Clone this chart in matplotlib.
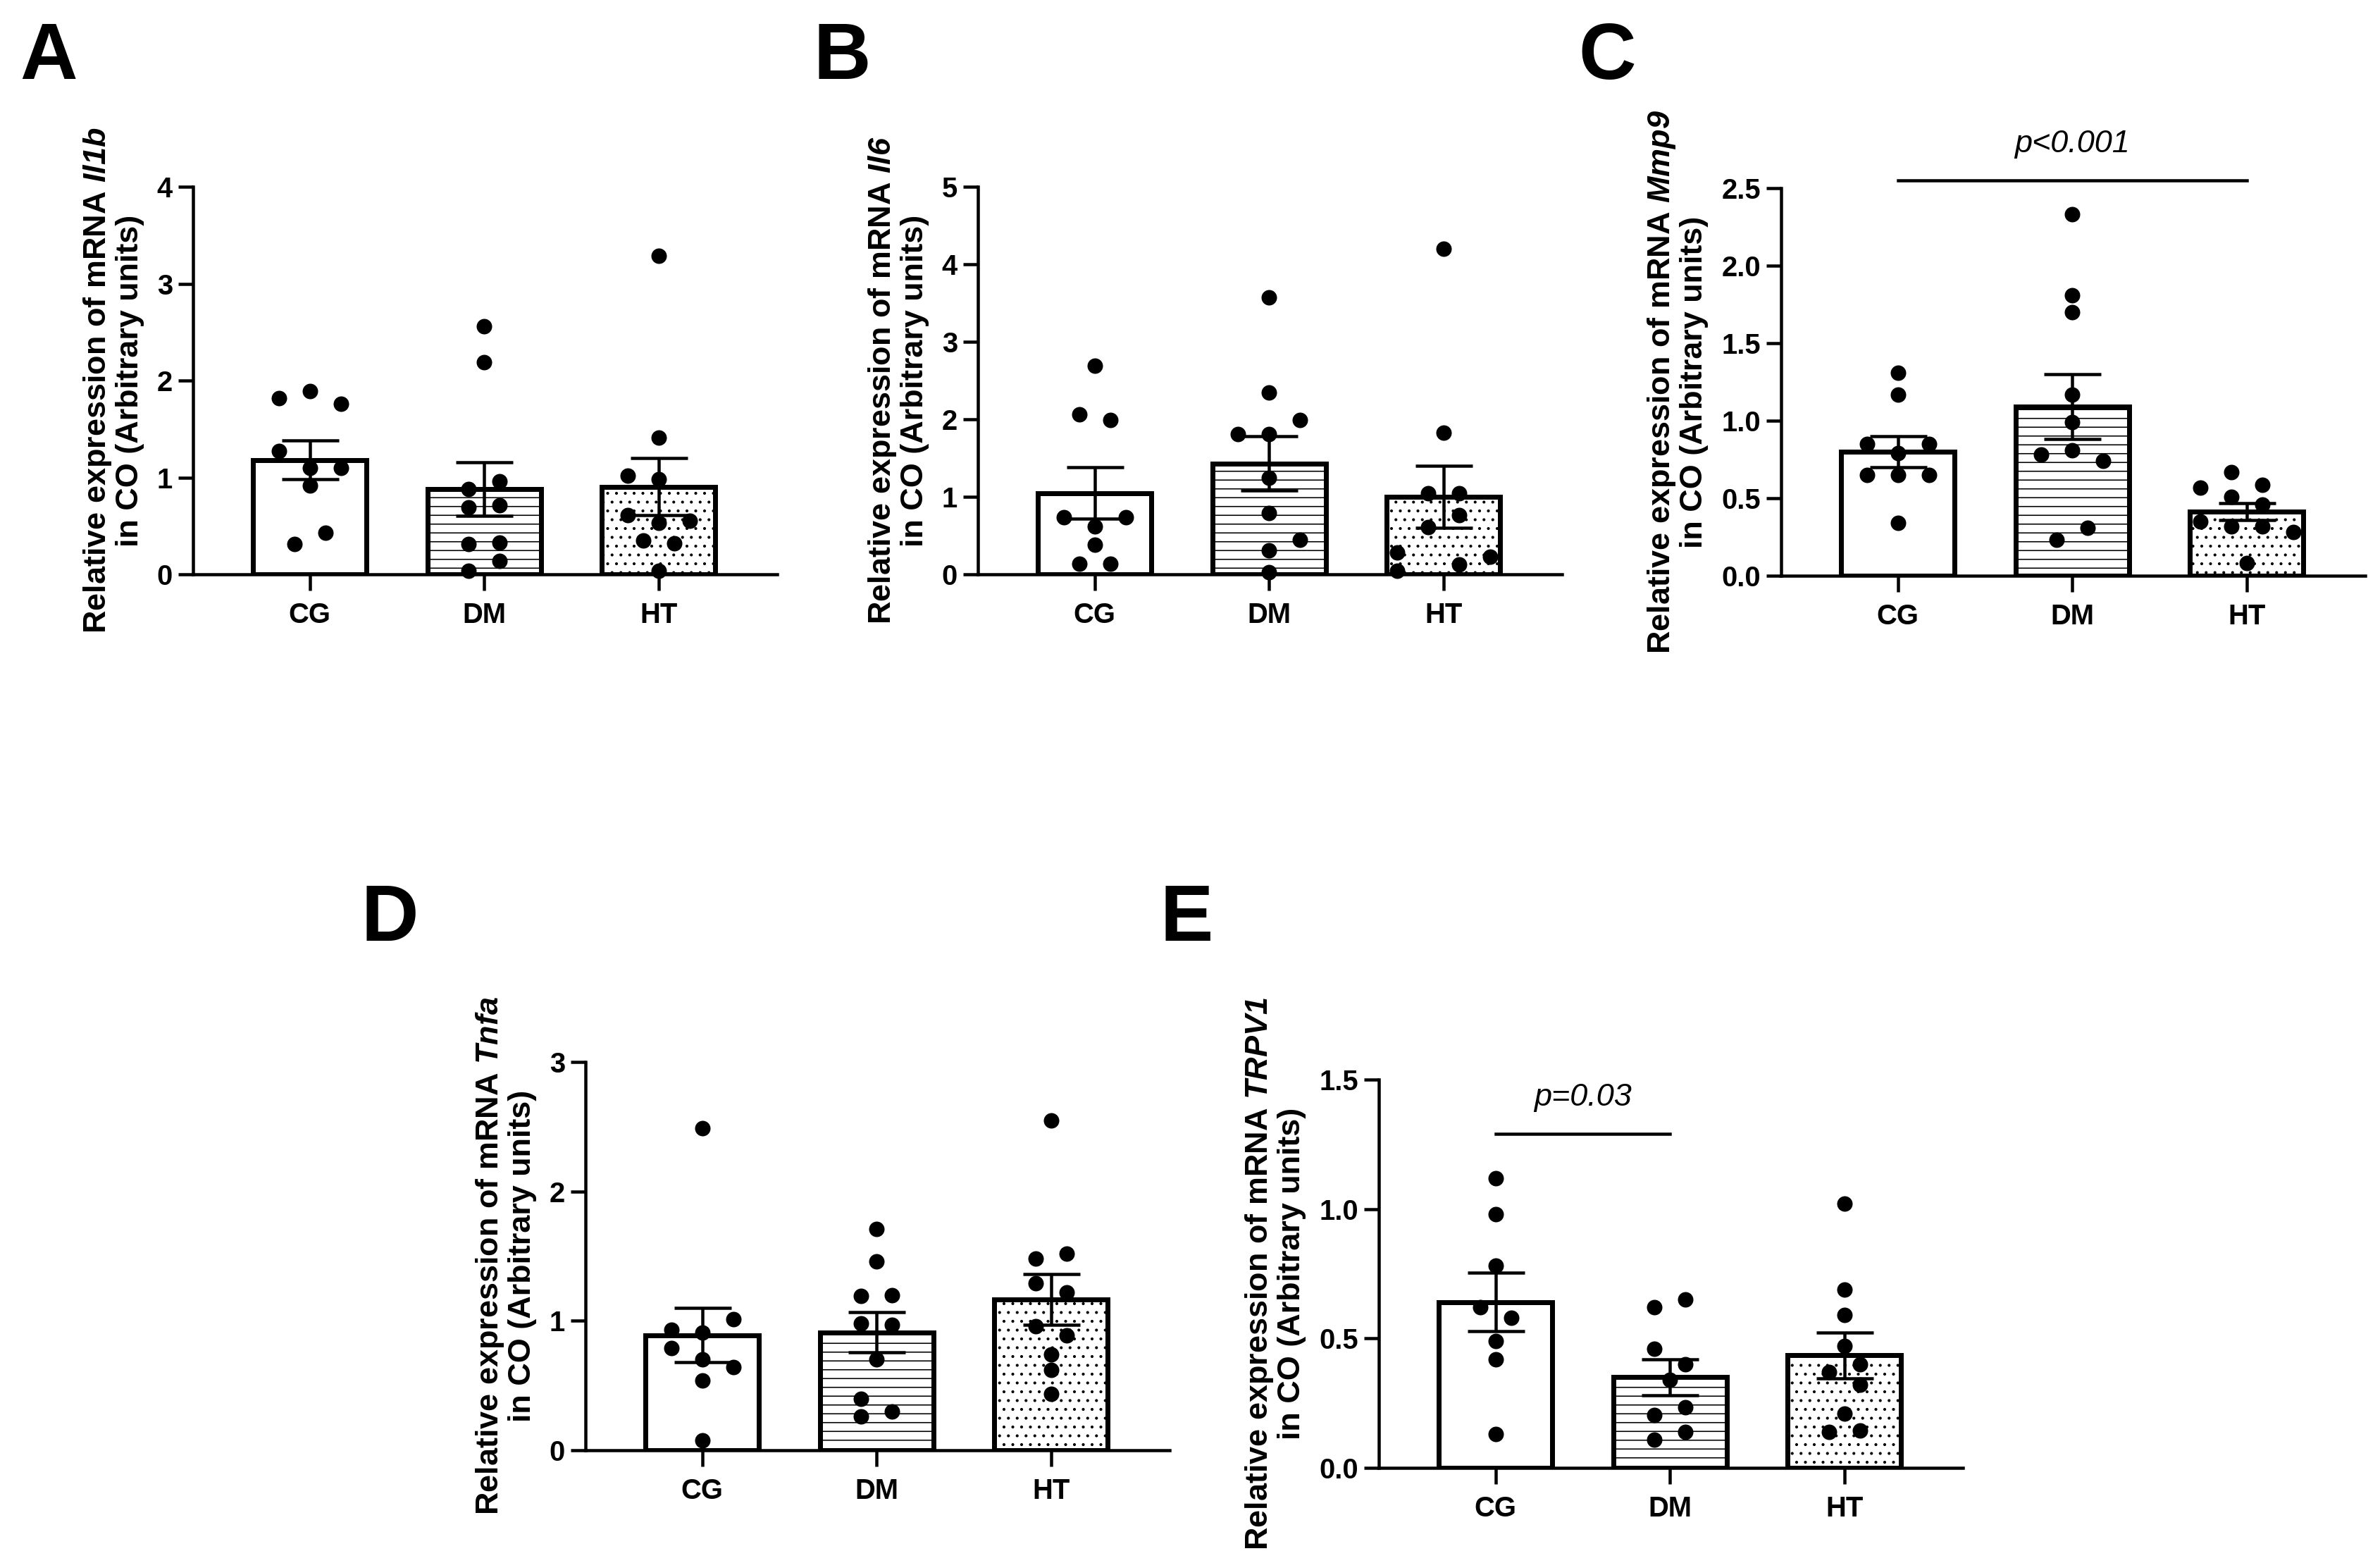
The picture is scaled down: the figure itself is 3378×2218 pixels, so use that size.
import numpy as np
import matplotlib
matplotlib.use('Agg')
import matplotlib.pyplot as plt

DPI = 75
W, H = 3378, 2218


def px(v):
    # pixel size -> points at the output dpi
    return v * 72.0 / DPI


plt.rcParams['font.family'] = ['Liberation Sans', 'DejaVu Sans']
plt.rcParams['mathtext.fontset'] = 'custom'
plt.rcParams['mathtext.it'] = 'Liberation Sans:italic:bold'
plt.rcParams['mathtext.rm'] = 'Liberation Sans:italic:bold'
plt.rcParams['mathtext.bf'] = 'Liberation Sans:italic:bold'
plt.rcParams['hatch.linewidth'] = px(1.6)

groups = ['CG', 'DM', 'HT']
hatches = ['', '-', '.']
STEP = 0.089  # horizontal jitter step (one dot width)

# A - Il1b
il1b_mean = [1.18, 0.88, 0.905]
il1b_sem = [0.20, 0.275, 0.295]
il1b_pts = [[1.89, 1.82, 1.76, 1.27, 1.10, 1.10, 0.92, 0.43, 0.31],
            [2.56, 2.19, 0.96, 0.88, 0.71, 0.69, 0.33, 0.31, 0.14, 0.04],
            [3.29, 1.41, 1.02, 0.98, 0.61, 0.53, 0.55, 0.35, 0.32, 0.04]]
il1b_dx = [[0, -2, 2, -2, 0, 2, 0, 1, -1],
           [0, 0, 1, -1, 1, -1, 1, -1, 1, -1],
           [0, 0, -2, 0, -2, 0, 2, -1, 1, 0]]

# B - Il6
il6_mean = [1.05, 1.43, 1.00]
il6_sem = [0.33, 0.35, 0.40]
il6_pts = [[2.69, 2.06, 1.99, 0.74, 0.74, 0.62, 0.38, 0.14, 0.14],
           [3.57, 2.35, 1.99, 1.81, 1.81, 1.25, 0.79, 0.45, 0.31, 0.03],
           [4.20, 1.83, 1.05, 1.05, 0.76, 0.61, 0.28, 0.23, 0.13, 0.05]]
il6_dx = [[0, -1, 1, -2, 2, 0, 0, -1, 1],
          [0, 0, 2, -2, 0, 0, 0, 2, 0, 0],
          [0, 0, -1, 1, 1, -1, -3, 3, 1, -3]]

# C - Mmp9
mmp9_mean = [0.80, 1.09, 0.415]
mmp9_sem = [0.10, 0.21, 0.055]
mmp9_pts = [[1.31, 1.17, 0.85, 0.85, 0.79, 0.65, 0.65, 0.65, 0.34],
            [2.33, 1.81, 1.70, 1.17, 0.99, 0.78, 0.81, 0.74, 0.31, 0.23],
            [0.67, 0.57, 0.585, 0.51, 0.46, 0.35, 0.32, 0.32, 0.28, 0.08]]
mmp9_dx = [[0, 0, -2, 2, 0, -2, 0, 2, 0],
           [0, 0, 0, 0, 0, -2, 0, 2, 1, -1],
           [-1, -3, 1, -1, 1, -3, -1, 1, 3, 0]]

# D - Tnfa
tnfa_mean = [0.89, 0.91, 1.165]
tnfa_sem = [0.21, 0.155, 0.195]
tnfa_pts = [[2.49, 1.01, 0.93, 0.91, 0.79, 0.70, 0.64, 0.54, 0.075],
            [1.71, 1.46, 1.19, 1.20, 0.98, 0.97, 0.70, 0.40, 0.30, 0.26],
            [2.55, 1.48, 1.52, 1.29, 1.22, 0.96, 0.89, 0.74, 0.62, 0.435]]
tnfa_dx = [[0, 2, -2, 0, -2, 0, 2, 0, 0],
           [0, 0, -1, 1, -1, 1, 0, -1, 1, -1],
           [0, -1, 1, -1, 1, -1, 1, 0, 0, 0]]

# E - TRPV1
trpv1_mean = [0.64, 0.35, 0.435]
trpv1_sem = [0.113, 0.07, 0.088]
trpv1_pts = [[1.12, 0.98, 0.78, 0.62, 0.58, 0.49, 0.42, 0.13],
             [0.65, 0.62, 0.46, 0.40, 0.34, 0.235, 0.205, 0.14, 0.11],
             [1.02, 0.69, 0.59, 0.47, 0.40, 0.37, 0.32, 0.21, 0.14, 0.145]]
trpv1_dx = [[0, 0, 0, -1, 1, 0, 0, 0],
            [1, -1, -1, 1, 0, 1, -1, 1, -1],
            [0, 0, 0, 0, 1, -1, 1, 0, -1, 1]]


def draw_panel(rect, means, sems, pts, dx, ymax, yticks, yticklabels, gene):
    l, b, w, h = rect
    ax = fig.add_axes([l / W, 1 - b / H, w / W, h / H])
    x = np.arange(len(groups))
    bars = ax.bar(x, means, width=0.65, color='white', edgecolor='black',
                  linewidth=px(7), zorder=1)
    for bar, hatch in zip(bars, hatches):
        bar.set_hatch(hatch)
    ax.errorbar(x, means, yerr=sems, fmt='none', ecolor='black',
                elinewidth=px(4.5), capsize=px(40.5), capthick=px(4.5), zorder=2)
    for i in range(len(groups)):
        xs = i + np.array(dx[i]) * STEP
        ax.scatter(xs, pts[i], s=px(22) ** 2, color='black', linewidths=0,
                   zorder=3, clip_on=False)
    ax.set_xlim(-0.67, 2.68)
    ax.set_ylim(0, ymax)
    ax.set_xticks(x)
    ax.set_xticklabels(groups, fontsize=px(40), fontweight='bold')
    ax.set_yticks(yticks)
    ax.set_yticklabels(yticklabels, fontsize=px(40), fontweight='bold')
    for side in ['top', 'right']:
        ax.spines[side].set_visible(False)
    for side in ['left', 'bottom']:
        ax.spines[side].set_linewidth(px(4.5))
    ax.tick_params(axis='y', length=px(21), width=px(4.5), pad=px(8))
    ax.tick_params(axis='x', length=px(23), width=px(4.5), pad=px(16))
    ax.set_ylabel('Relative expression of mRNA $' + gene + '$\nin CO (Arbitrary units)',
                  fontsize=px(45), fontweight='bold', linespacing=1.1, labelpad=px(18))
    return ax


fig = plt.figure(figsize=(W / DPI, H / DPI), dpi=DPI)

axA = draw_panel((274, 815, 829, 550), il1b_mean, il1b_sem, il1b_pts, il1b_dx,
                 4, [0, 1, 2, 3, 4], ['0', '1', '2', '3', '4'], 'Il1b')
axB = draw_panel((1388, 815, 829, 550), il6_mean, il6_sem, il6_pts, il6_dx,
                 5, [0, 1, 2, 3, 4, 5], ['0', '1', '2', '3', '4', '5'], 'Il6')
axC = draw_panel((2528, 817, 829, 550), mmp9_mean, mmp9_sem, mmp9_pts, mmp9_dx,
                 2.5, [0, 0.5, 1.0, 1.5, 2.0, 2.5],
                 ['0.0', '0.5', '1.0', '1.5', '2.0', '2.5'], 'Mmp9')
axD = draw_panel((831, 2058, 829, 551), tnfa_mean, tnfa_sem, tnfa_pts, tnfa_dx,
                 3, [0, 1, 2, 3], ['0', '1', '2', '3'], 'Tnfa')
axE = draw_panel((1957, 2083, 829, 551), trpv1_mean, trpv1_sem, trpv1_pts, trpv1_dx,
                 1.5, [0, 0.5, 1.0, 1.5], ['0.0', '0.5', '1.0', '1.5'], 'TRPV1')

# significance annotations
axC.plot([0, 2], [2.55, 2.55], color='black', lw=px(4.5), clip_on=False)
axC.text(1, 2.73, 'p<0.001', ha='center', va='baseline', fontsize=px(45),
         style='italic', clip_on=False)
axE.plot([0, 1], [1.29, 1.29], color='black', lw=px(4.5), clip_on=False)
axE.text(0.5, 1.40, 'p=0.03', ha='center', va='baseline', fontsize=px(45),
         style='italic', clip_on=False)

# panel letters
for letter, lx, ly in [('A', 28, 112), ('B', 1155, 112), ('C', 2240, 112),
                       ('D', 512, 1335), ('E', 1646, 1335)]:
    fig.text(lx / W, 1 - ly / H, letter, fontsize=px(113), fontweight='bold',
             ha='left', va='baseline')

fig.savefig('out.png', dpi=DPI)
